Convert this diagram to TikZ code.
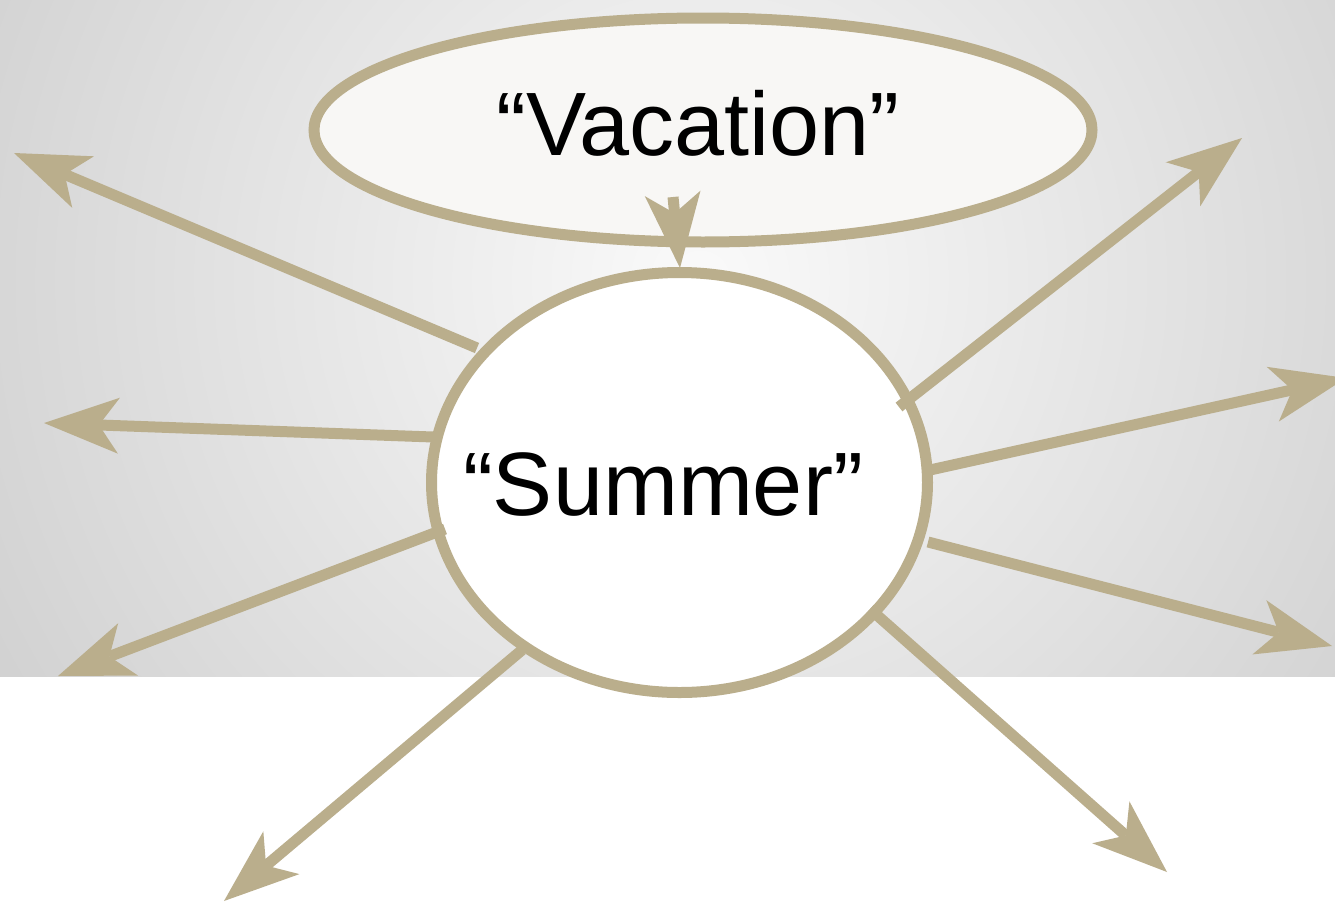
\documentclass[tikz,border=0pt]{standalone}
\usepackage{fontspec}
\setmainfont{Liberation Sans}
\usetikzlibrary{shapes.geometric,arrows.meta}
\definecolor{tanc}{RGB}{186,174,140}
\definecolor{vacfill}{RGB}{248,247,245}
\definecolor{bgin}{RGB}{250,250,250}
\definecolor{bgout}{RGB}{182,182,182}
\tikzset{
  bubble/.style={ellipse, draw=tanc, line width=11pt, inner sep=0pt, outer sep=0pt},
  arr/.style={draw=tanc, line width=11pt, line cap=butt,
    -{Stealth[length=75pt, width=56pt, inset=20pt, line width=0pt]}},
  bigtext/.style={font=\fontsize{90}{90}\selectfont, inner sep=0pt, anchor=base}
}
\begin{document}
\begin{tikzpicture}[x=1pt,y=-1pt]
\useasboundingbox (0,0) rectangle (1335,902);
\fill[white] (0,0) rectangle (1335,902);
\begin{scope}
  \clip (0,0) rectangle (1335,676);
  \shade[inner color=bgin, outer color=bgout] (700,280) circle (1350pt);
\end{scope}
% ellipses
\node[bubble, fill=vacfill, minimum width=778pt, minimum height=224pt] (vac) at (703,130) {};
\node[bigtext] (vactext) at (698,155) {“Vacation”};
\node[bubble, fill=white, minimum width=496pt, minimum height=420pt] (sum) at (679.5,482.5) {};
\node[bigtext] (sumtext) at (663,515) {“Summer”};
% coordinates
\coordinate (s1) at (477,348); \coordinate (t1) at (14,153);
\coordinate (s2) at (433,437); \coordinate (t2) at (44,423);
\coordinate (s3) at (445,529); \coordinate (t3) at (58,676);
\coordinate (s4) at (522,650); \coordinate (t4) at (224,901);
\coordinate (s5) at (870,609); \coordinate (t5) at (1167,872);
\coordinate (s6) at (928,542); \coordinate (t6) at (1332,646);
\coordinate (s7) at (930,470); \coordinate (t7) at (1346,378);
\coordinate (s8) at (899,407); \coordinate (t8) at (1242,138);
\coordinate (sv) at (673,197); \coordinate (tv) at (680,268);
% arrows
\draw[arr] (s1) -- (t1);
\draw[arr] (s2) -- (t2);
\draw[arr] (s3) -- (t3);
\draw[arr] (s4) -- (t4);
\draw[arr] (s5) -- (t5);
\draw[arr] (s6) -- (t6);
\draw[arr] (s7) -- (t7);
\draw[arr] (s8) -- (t8);
\draw[arr] (sv) -- (tv);
\end{tikzpicture}
\end{document}
